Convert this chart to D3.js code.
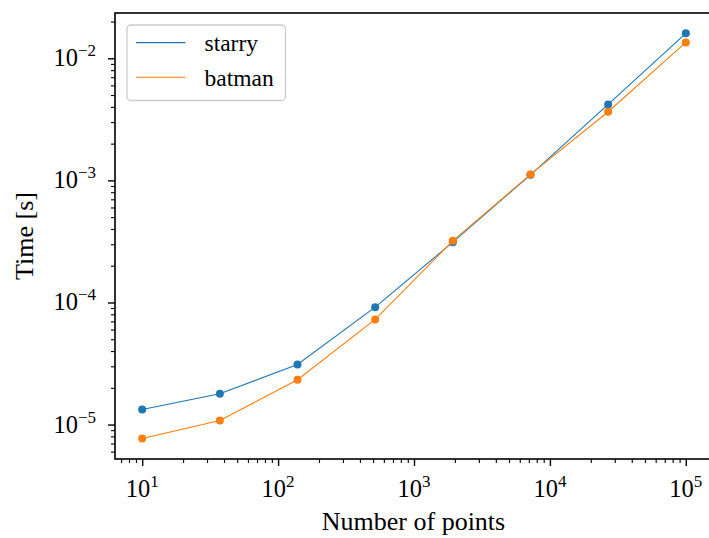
<!DOCTYPE html>
<html><head><meta charset="utf-8">
<script src="https://cdn.jsdelivr.net/npm/d3@7"></script>
<style>body{margin:0;background:#fff}svg{display:block}svg text{font-family:'Liberation Serif','DejaVu Serif',serif}</style>
</head><body>
<svg id="c" width="709" height="538"></svg>
<script>
const xVals = [10, 37.28, 138.95, 517.95, 1930.7, 7196.9, 26826.96, 100000];
const starry = [1.33e-5, 1.79e-5, 3.11e-5, 9.16e-5, 3.12e-4, 1.11e-3, 4.19e-3, 1.60e-2];
const batman = [7.7e-6, 1.08e-5, 2.33e-5, 7.26e-5, 3.2e-4, 1.12e-3, 3.65e-3, 1.35e-2];
const seriesNames = ["starry", "batman"];
const colors = ["#1f77b4", "#ff7f0e"];
const xMajorExp = [1, 2, 3, 4, 5];
const yMajorExp = [-2, -3, -4, -5];

const font = "'Liberation Serif','DejaVu Serif',serif";
const svg = d3.select("#c");
const L = 115, T = 13, R = 713, B = 459;
const x = d3.scaleLog().domain([Math.pow(10, 0.8), Math.pow(10, 5.2)]).range([L, R]);
const y = d3.scaleLog().domain([Math.pow(10, -5.282), Math.pow(10, -1.629)]).range([B, T]);

function minors(lo, hi) {
  const out = [];
  for (let e = lo; e <= hi; e++) for (let m = 2; m <= 9; m++) out.push(m * Math.pow(10, e));
  return out;
}
const xd = x.domain(), yd = y.domain();
const xMinor = minors(0, 5).filter(v => v >= xd[0] && v <= xd[1]);
const yMinor = minors(-6, -2).filter(v => v >= yd[0] && v <= yd[1]);

function styleAxis(g) {
  g.select(".domain").remove();
  g.selectAll(".tick line").attr("stroke", "#000").attr("stroke-width", 1.4);
}
svg.append("g").attr("transform", `translate(0,${B})`)
  .call(d3.axisBottom(x).tickValues(xMajorExp.map(e => Math.pow(10, e))).tickSize(7).tickFormat("")).call(styleAxis);
svg.append("g").attr("transform", `translate(0,${B})`)
  .call(d3.axisBottom(x).tickValues(xMinor).tickSize(4).tickFormat("")).call(g => { styleAxis(g); g.selectAll(".tick line").attr("stroke-width", 1.1); });
svg.append("g").attr("transform", `translate(${L},0)`)
  .call(d3.axisLeft(y).tickValues(yMajorExp.map(e => Math.pow(10, e))).tickSize(7).tickFormat("")).call(styleAxis);
svg.append("g").attr("transform", `translate(${L},0)`)
  .call(d3.axisLeft(y).tickValues(yMinor).tickSize(4).tickFormat("")).call(g => { styleAxis(g); g.selectAll(".tick line").attr("stroke-width", 1.1); });

function powLabel(g, base, exp) {
  g.append("tspan").text(base);
  g.append("tspan").attr("dy", -10).attr("font-size", 17).text(exp);
}
xMajorExp.forEach(e => {
  const t = svg.append("text").attr("x", x(Math.pow(10, e))).attr("y", 497)
    .attr("text-anchor", "middle").attr("font-family", font).attr("font-size", 24.5).attr("fill", "#000");
  powLabel(t, "10", String(e));
});
yMajorExp.forEach(e => {
  const t = svg.append("text").attr("x", 96).attr("y", y(Math.pow(10, e)) + 8)
    .attr("text-anchor", "end").attr("font-family", font).attr("font-size", 24.5).attr("fill", "#000");
  powLabel(t, "10", "\u2212" + Math.abs(e));
});

svg.append("text").attr("x", (L + 708) / 2 + 2).attr("y", 530).attr("text-anchor", "middle")
  .attr("font-family", font).attr("font-size", 26).text("Number of points");
svg.append("text").attr("transform", `translate(33,${(T + B) / 2}) rotate(-90)`).attr("text-anchor", "middle")
  .attr("font-family", font).attr("font-size", 26).text("Time [s]");

const dataSets = [starry, batman];
const line = d3.line().x(d => x(d[0])).y(d => y(d[1]));
dataSets.forEach((vals, i) => {
  const pts = xVals.map((xv, j) => [xv, vals[j]]);
  svg.append("path").datum(pts).attr("d", line).attr("fill", "none")
    .attr("stroke", colors[i]).attr("stroke-width", 1.1);
  svg.append("g").selectAll("circle").data(pts).join("circle")
    .attr("cx", d => x(d[0])).attr("cy", d => y(d[1])).attr("r", 4).attr("fill", colors[i]);
});

svg.append("rect").attr("x", L).attr("y", T).attr("width", R - L).attr("height", B - T)
  .attr("fill", "none").attr("stroke", "#000").attr("stroke-width", 1.6);

const lg = svg.append("g");
lg.append("rect").attr("x", 127).attr("y", 25).attr("width", 158.5).attr("height", 75.5).attr("rx", 4)
  .attr("fill", "#fff").attr("fill-opacity", 0.8).attr("stroke", "#cccccc").attr("stroke-width", 1.3);
seriesNames.forEach((n, i) => {
  const yy = 42.6 + i * 34.7;
  lg.append("line").attr("x1", 136).attr("x2", 185.5).attr("y1", yy).attr("y2", yy)
    .attr("stroke", colors[i]).attr("stroke-width", 1.1);
  lg.append("text").attr("x", 204.5).attr("y", yy + 8.7).attr("font-family", font).attr("font-size", 23.5).attr("fill", "#000").text(n);
});
</script>
</body></html>
